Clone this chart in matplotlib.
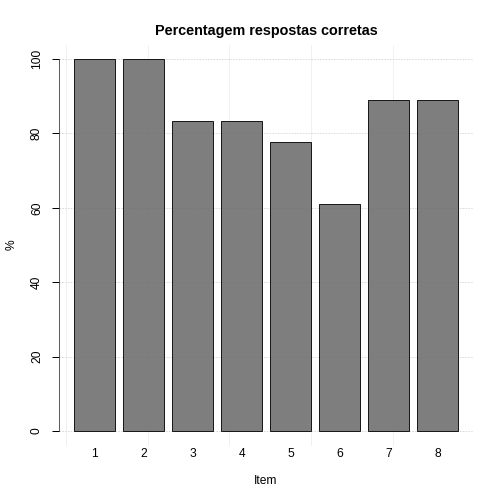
import numpy as np
import matplotlib
matplotlib.use("Agg")
import matplotlib.pyplot as plt

# percent of correct answers per item
items = ["1", "2", "3", "4", "5", "6", "7", "8"]
pct_correct = [100.0, 100.0, 83.33, 83.33, 77.78, 61.11, 88.89, 88.89]
y_ticks = [0, 20, 40, 60, 80, 100]
x_grid = [0, 2, 4, 6, 8]

plt.rcParams["font.family"] = ["Liberation Sans", "DejaVu Sans"]

fig = plt.figure(figsize=(7, 7), dpi=72)
W = H = 504
ax = fig.add_axes([59 / W, 1 - 446 / H, (473.4 - 59) / W, (446 - 44.1) / H])

# R barplot layout: width 1, space 0.2
centers = 0.7 + 1.2 * np.arange(len(items))
# slightly see-through fill so the grid shows faintly through the bars
ax.bar(centers, pct_correct, width=1.0, facecolor=(0.41, 0.41, 0.41, 0.86),
       edgecolor="#1a1a1a", linewidth=1.0, zorder=2)

ax.set_xlim(-0.176, 9.976)
ax.set_ylim(-4, 104)

for yv in y_ticks:
    ax.axhline(yv, color="#d3d3d3", linewidth=0.8, dashes=(2, 1.5), zorder=1)
for xv in x_grid:
    ax.axvline(xv, color="#d3d3d3", linewidth=0.8, dashes=(1, 1.5), zorder=1)

for s in ["top", "right", "bottom"]:
    ax.spines[s].set_visible(False)
ax.spines["left"].set_bounds(0, 100)
ax.spines["left"].set_color("#333333")

ax.set_xticks(centers)
ax.set_xticklabels(items, fontsize=12)
ax.tick_params(axis="x", length=0, pad=2)

ax.set_yticks(y_ticks)
ax.set_yticklabels([str(v) for v in y_ticks], fontsize=12, rotation=90, va="center")
ax.tick_params(axis="y", length=7, width=1, pad=9)

fig.text(266 / W, 1 - 31 / H, "Percentagem respostas corretas",
         fontsize=14.4, fontweight="bold", ha="center", va="center")
fig.text(266 / W, 1 - 481 / H, "Item", fontsize=12, ha="center", va="center")
fig.text(12 / W, 1 - 245 / H, "%", fontsize=12, ha="center", va="center", rotation=90)

fig.savefig("out.png", dpi=72)
